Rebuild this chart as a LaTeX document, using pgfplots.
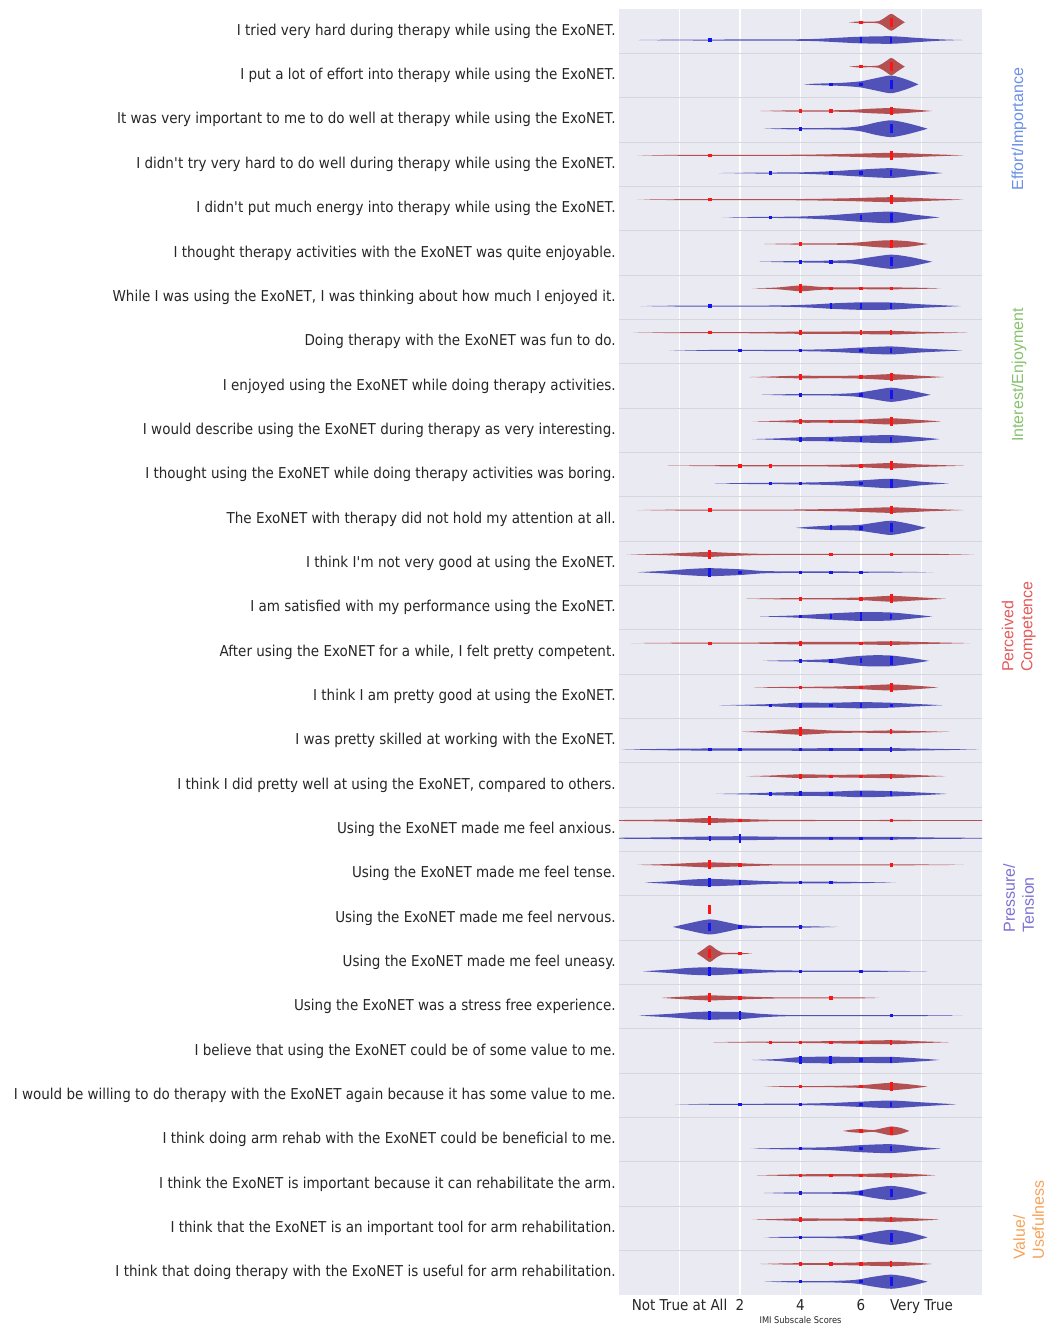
\documentclass[border=0pt]{standalone}
\usepackage{fontspec}
\setmainfont{DejaVu Sans}[FakeStretch=0.9]
\newfontfamily\grpfont{Liberation Sans}
\usepackage{pgfplots}
\pgfplotsset{compat=1.18}
\usepgfplotslibrary{fillbetween}

\definecolor{bgcol}{HTML}{EAEAF2}
\definecolor{sepcol}{HTML}{D6D6DE}
\definecolor{txt}{HTML}{262626}
\definecolor{redv}{RGB}{176,72,74}
\definecolor{bluev}{RGB}{72,74,180}
\definecolor{redpt}{RGB}{255,20,20}
\definecolor{bluept}{RGB}{20,20,240}
\definecolor{effcol}{HTML}{6A8FE6}
\definecolor{intcol}{HTML}{86C16E}
\definecolor{pcol}{HTML}{E25A5A}
\definecolor{prcol}{HTML}{7B70D2}
\definecolor{vcol}{HTML}{F4A258}

% one violin: #1 name, #2 centre row, #3 fill colour, #4 rows "x halfwidth"
\newcommand{\violin}[4]{%
  \addplot[name path=#1u, draw=none, smooth, tension=0.45, forget plot]
    table[x index=0, y expr={#2+\thisrowno{1}}, row sep=\\] {#4};
  \addplot[name path=#1l, draw=none, smooth, tension=0.45, forget plot]
    table[x index=0, y expr={#2-\thisrowno{1}}, row sep=\\] {#4};
  \addplot[fill=#3, fill opacity=0.95, draw=none, forget plot] fill between[of=#1u and #1l];
}

\tikzset{
  grp/.style={rotate=90, anchor=west, align=left,
              font=\grpfont\fontsize{8}{9.5}\selectfont},
}

\begin{document}
\begin{tikzpicture}
\begin{axis}[
  at={(0,0)}, anchor=south west,
  scale only axis, width=181.5pt, height=643pt,
  xmin=-2, xmax=10, ymin=0.5, ymax=29.5, y dir=reverse,
  clip mode=individual,
  axis background/.style={fill=bgcol},
  axis line style={draw=none},
  major tick length=0pt, minor tick length=0pt,
  xtick={0,2,4,6,8},
  xticklabels={Not True at All,2,4,6,Very True},
  ytick={1,...,29},
  minor ytick={1.5,2.5,...,28.5},
  xmajorgrids, yminorgrids,
  major grid style={white, line width=0.6pt},
  minor grid style={sepcol, line width=0.5pt},
  tick label style={font=\fontsize{7.5}{9}\selectfont, text=txt},
  xticklabel style={anchor=base, yshift=-8pt},
  yticklabel style={anchor=east, inner sep=0pt, xshift=-1.5pt},
  xlabel={IMI Subscale Scores},
  xlabel style={font=\fontsize{4.6}{5}\selectfont, text=txt,
                at={(axis description cs:0.5,0)}, anchor=center, yshift=-12.5pt},
  yticklabels={
    I tried very hard during therapy while using the ExoNET.,
    I put a lot of effort into therapy while using the ExoNET.,
    It was very important to me to do well at therapy while using the ExoNET.,
    I didn\textquotesingle t try very hard to do well during therapy while using the ExoNET.,
    I didn\textquotesingle t put much energy into therapy while using the ExoNET.,
    I thought therapy activities with the ExoNET was quite enjoyable.,
    {While I was using the ExoNET, I was thinking about how much I enjoyed it.},
    Doing therapy with the ExoNET was fun to do.,
    I enjoyed using the ExoNET while doing therapy activities.,
    I would describe using the ExoNET during therapy as very interesting.,
    I thought using the ExoNET while doing therapy activities was boring.,
    The ExoNET with therapy did not hold my attention at all.,
    I think I\textquotesingle m not very good at using the ExoNET.,
    I am satisfied with my performance using the ExoNET.,
    {After using the ExoNET for a while, I felt pretty competent.},
    I think I am pretty good at using the ExoNET.,
    I was pretty skilled at working with the ExoNET.,
    {I think I did pretty well at using the ExoNET, compared to others.},
    Using the ExoNET made me feel anxious.,
    Using the ExoNET made me feel tense.,
    Using the ExoNET made me feel nervous.,
    Using the ExoNET made me feel uneasy.,
    Using the ExoNET was a stress free experience.,
    I believe that using the ExoNET could be of some value to me.,
    I would be willing to do therapy with the ExoNET again because it has some value to me.,
    I think doing arm rehab with the ExoNET could be beneficial to me.,
    I think the ExoNET is important because it can rehabilitate the arm.,
    I think that the ExoNET is an important tool for arm rehabilitation.,
    I think that doing therapy with the ExoNET is useful for arm rehabilitation.,
  },
]

% red violins (upper of each row)
\violin{r1}{0.8}{redv}{5.6 0\\ 5.8 0.012\\ 6 0.02\\ 6.3 0.012\\ 6.6 0.03\\ 6.8 0.11\\ 7 0.19\\ 7.2 0.11\\ 7.4 0.02\\ 7.45 0\\}
\violin{r2}{1.8}{redv}{5.6 0\\ 5.8 0.012\\ 6 0.02\\ 6.3 0.012\\ 6.6 0.03\\ 6.8 0.11\\ 7 0.195\\ 7.2 0.11\\ 7.4 0.02\\ 7.45 0\\}
\violin{r3}{2.8}{redv}{2.65 0\\ 3.5 0.012\\ 4 0.014\\ 5 0.015\\ 5.7 0.025\\ 6.3 0.05\\ 7 0.065\\ 7.6 0.04\\ 8.35 0\\}
\violin{r4}{3.8}{redv}{-1.4 0\\ 0 0.01\\ 2 0.01\\ 4 0.014\\ 5.5 0.03\\ 7 0.055\\ 8.3 0.025\\ 9.4 0\\}
\violin{r5}{4.8}{redv}{-1.4 0\\ 0 0.01\\ 2 0.01\\ 4 0.014\\ 5.5 0.03\\ 7 0.055\\ 8.3 0.025\\ 9.4 0\\}
\violin{r6}{5.8}{redv}{2.8 0\\ 3.5 0.01\\ 4 0.012\\ 5 0.014\\ 5.8 0.03\\ 6.5 0.07\\ 7 0.085\\ 7.6 0.06\\ 8.2 0\\}
\violin{r7}{6.8}{redv}{2.4 0\\ 3.2 0.018\\ 4 0.065\\ 4.6 0.035\\ 5 0.025\\ 6 0.02\\ 7 0.022\\ 8 0.012\\ 8.65 0\\}
\violin{r8}{7.8}{redv}{-1.55 0\\ 0 0.01\\ 1 0.012\\ 2.5 0.013\\ 4 0.025\\ 5 0.025\\ 6 0.032\\ 7 0.04\\ 8 0.02\\ 9.55 0\\}
\violin{r9}{8.8}{redv}{2.3 0\\ 3 0.012\\ 4 0.03\\ 5 0.025\\ 6 0.035\\ 7 0.065\\ 8 0.028\\ 8.75 0\\}
\violin{r10}{9.8}{redv}{2.4 0\\ 3.2 0.012\\ 4 0.03\\ 5 0.03\\ 6 0.04\\ 7 0.07\\ 8 0.03\\ 8.65 0\\}
\violin{r11}{10.8}{redv}{-0.4 0\\ 1 0.01\\ 2 0.014\\ 3 0.016\\ 4 0.014\\ 5 0.018\\ 6 0.035\\ 7 0.06\\ 8 0.028\\ 9.4 0\\}
\violin{r12}{11.8}{redv}{-1.4 0\\ 0 0.01\\ 2 0.01\\ 4 0.014\\ 5.5 0.03\\ 7 0.062\\ 8.3 0.025\\ 9.4 0\\}
\violin{r13}{12.8}{redv}{-1.75 0\\ -0.5 0.016\\ 0.5 0.045\\ 1 0.056\\ 1.5 0.04\\ 2.5 0.016\\ 3.5 0.012\\ 5 0.012\\ 7 0.012\\ 8.5 0.01\\ 9.75 0\\}
\violin{r14}{13.8}{redv}{2.2 0\\ 3 0.01\\ 4 0.014\\ 5 0.016\\ 6 0.03\\ 7 0.065\\ 8 0.03\\ 8.8 0\\}
\violin{r15}{14.8}{redv}{-1.6 0\\ 0 0.01\\ 1 0.012\\ 2.5 0.013\\ 4 0.03\\ 5 0.028\\ 6 0.03\\ 7 0.04\\ 8.2 0.02\\ 9.6 0\\}
\violin{r16}{15.8}{redv}{2.45 0\\ 3.2 0.01\\ 4 0.014\\ 5 0.02\\ 6 0.04\\ 7 0.068\\ 8 0.03\\ 8.55 0\\}
\violin{r17}{16.8}{redv}{2.05 0\\ 3 0.025\\ 4 0.065\\ 5 0.03\\ 6 0.02\\ 7 0.03\\ 8 0.015\\ 8.95 0\\}
\violin{r18}{17.8}{redv}{2.2 0\\ 3 0.014\\ 4 0.042\\ 5 0.03\\ 6 0.035\\ 7 0.045\\ 8 0.02\\ 8.8 0\\}
\violin{r19}{18.8}{redv}{-2.1 0.01\\ -0.5 0.02\\ 0.5 0.045\\ 1 0.055\\ 2 0.035\\ 3 0.016\\ 4 0.012\\ 6 0.01\\ 7 0.012\\ 8.5 0.01\\ 10.1 0.008\\}
\violin{r20}{19.8}{redv}{-1.4 0\\ -0.3 0.02\\ 0.5 0.045\\ 1 0.056\\ 2 0.035\\ 3 0.014\\ 4 0.01\\ 6 0.01\\ 7 0.01\\ 8.2 0.008\\ 9.4 0\\}
\violin{r22}{21.8}{redv}{0.58 0\\ 0.8 0.1\\ 1 0.19\\ 1.2 0.1\\ 1.4 0.025\\ 1.7 0.014\\ 2 0.016\\ 2.4 0\\}
\violin{r23}{22.8}{redv}{-0.6 0\\ 0 0.025\\ 1 0.056\\ 2 0.035\\ 3 0.015\\ 4 0.012\\ 5 0.012\\ 6 0.01\\ 6.6 0\\}
\violin{r24}{23.8}{redv}{1.1 0\\ 2 0.01\\ 3 0.012\\ 4 0.016\\ 5 0.025\\ 6 0.035\\ 7 0.045\\ 8 0.02\\ 8.9 0\\}
\violin{r25}{24.8}{redv}{2.8 0\\ 3.5 0.01\\ 4 0.012\\ 5 0.014\\ 6 0.03\\ 6.5 0.06\\ 7 0.083\\ 7.6 0.05\\ 8.2 0\\}
\violin{r26}{25.8}{redv}{5.4 0\\ 5.7 0.03\\ 6 0.04\\ 6.4 0.02\\ 6.7 0.06\\ 7 0.1\\ 7.3 0.07\\ 7.6 0\\}
\violin{r27}{26.8}{redv}{2.55 0\\ 3.3 0.012\\ 4 0.022\\ 5 0.025\\ 6 0.03\\ 7 0.048\\ 7.8 0.025\\ 8.45 0\\}
\violin{r28}{27.8}{redv}{2.4 0\\ 3.2 0.014\\ 4 0.03\\ 5 0.022\\ 6 0.032\\ 7 0.05\\ 7.9 0.025\\ 8.6 0\\}
\violin{r29}{28.8}{redv}{2.65 0\\ 3.4 0.012\\ 4 0.018\\ 5 0.022\\ 6 0.035\\ 7 0.05\\ 7.8 0.028\\ 8.35 0\\}

% blue violins (lower of each row)
\violin{b1}{1.2}{bluev}{-1.35 0\\ 0 0.01\\ 2 0.012\\ 3.5 0.014\\ 4.5 0.025\\ 5.5 0.06\\ 6 0.075\\ 7 0.085\\ 7.8 0.05\\ 8.6 0.016\\ 9.35 0\\}
\violin{b2}{2.2}{bluev}{4.1 0\\ 4.5 0.016\\ 5 0.025\\ 5.5 0.04\\ 6 0.07\\ 6.5 0.14\\ 7 0.2\\ 7.5 0.11\\ 7.9 0\\}
\violin{b3}{3.2}{bluev}{2.8 0\\ 3.5 0.012\\ 4.5 0.014\\ 5.5 0.025\\ 6 0.06\\ 6.5 0.14\\ 7 0.19\\ 7.5 0.13\\ 8 0.04\\ 8.2 0\\}
\violin{b4}{4.2}{bluev}{1.3 0\\ 2.5 0.01\\ 3 0.012\\ 4 0.016\\ 5 0.04\\ 6 0.08\\ 7 0.11\\ 7.8 0.06\\ 8.7 0\\}
\violin{b5}{5.2}{bluev}{1.4 0\\ 2.5 0.01\\ 3 0.012\\ 4 0.02\\ 5 0.05\\ 6 0.1\\ 7 0.13\\ 7.8 0.06\\ 8.6 0\\}
\violin{b6}{6.2}{bluev}{2.65 0\\ 3.5 0.012\\ 4 0.016\\ 5 0.025\\ 5.7 0.04\\ 6.3 0.1\\ 7 0.16\\ 7.6 0.11\\ 8.35 0\\}
\violin{b7}{7.2}{bluev}{-1.3 0\\ 0 0.01\\ 2 0.012\\ 3.5 0.016\\ 4.5 0.04\\ 5 0.06\\ 6 0.085\\ 7 0.08\\ 8 0.04\\ 9.3 0\\}
\violin{b8}{8.2}{bluev}{-0.35 0\\ 1 0.01\\ 2 0.012\\ 3 0.013\\ 4 0.016\\ 5 0.03\\ 6 0.065\\ 7 0.09\\ 8 0.045\\ 9.35 0\\}
\violin{b9}{9.2}{bluev}{2.7 0\\ 3.5 0.012\\ 4 0.014\\ 5 0.016\\ 5.8 0.04\\ 6.4 0.1\\ 7 0.16\\ 7.6 0.1\\ 8.3 0\\}
\violin{b10}{10.2}{bluev}{2.4 0\\ 3.2 0.016\\ 4 0.04\\ 5 0.05\\ 6 0.075\\ 7 0.09\\ 8 0.04\\ 8.6 0\\}
\violin{b11}{11.2}{bluev}{1.15 0\\ 2 0.01\\ 3 0.016\\ 4 0.02\\ 5 0.035\\ 6 0.07\\ 7 0.105\\ 8 0.04\\ 8.9 0\\}
\violin{b12}{12.2}{bluev}{3.85 0\\ 4.3 0.025\\ 5 0.05\\ 5.6 0.055\\ 6 0.07\\ 6.5 0.12\\ 7 0.16\\ 7.6 0.09\\ 8.15 0\\}
\violin{b13}{13.2}{bluev}{-1.4 0\\ -0.5 0.03\\ 0.3 0.07\\ 1 0.09\\ 2 0.065\\ 2.8 0.025\\ 4 0.016\\ 5 0.016\\ 6 0.014\\ 7 0.01\\ 8.4 0\\}
\violin{b14}{14.2}{bluev}{2.65 0\\ 3.5 0.016\\ 4 0.03\\ 5 0.07\\ 6 0.1\\ 7 0.09\\ 7.8 0.04\\ 8.35 0\\}
\violin{b15}{15.2}{bluev}{2.75 0\\ 3.5 0.012\\ 4 0.016\\ 5 0.04\\ 5.6 0.09\\ 6.3 0.125\\ 7 0.12\\ 7.7 0.06\\ 8.25 0\\}
\violin{b16}{16.2}{bluev}{1.3 0\\ 2.3 0.012\\ 3 0.025\\ 4 0.055\\ 5 0.055\\ 6 0.07\\ 7 0.055\\ 7.9 0.025\\ 8.7 0\\}
\violin{b17}{17.2}{bluev}{-1.9 0\\ -0.5 0.015\\ 1 0.025\\ 2 0.025\\ 3 0.025\\ 4 0.028\\ 5 0.03\\ 6 0.03\\ 7 0.032\\ 8.5 0.015\\ 9.9 0\\}
\violin{b18}{18.2}{bluev}{1.2 0\\ 2.2 0.012\\ 3 0.028\\ 4 0.045\\ 5 0.05\\ 6 0.075\\ 7 0.06\\ 8 0.03\\ 8.85 0\\}
\violin{b19}{19.2}{bluev}{-2.1 0.01\\ -0.5 0.02\\ 1 0.04\\ 2 0.045\\ 3 0.035\\ 4 0.03\\ 5 0.03\\ 6 0.03\\ 7 0.03\\ 8.5 0.016\\ 10.1 0.008\\}
\violin{b20}{20.2}{bluev}{-1.15 0\\ -0.3 0.03\\ 0.3 0.065\\ 1 0.083\\ 2 0.06\\ 3 0.03\\ 4 0.02\\ 5 0.02\\ 6 0.012\\ 7.15 0\\}
\violin{b21}{21.2}{bluev}{-0.22 0\\ 0.3 0.08\\ 1 0.17\\ 1.6 0.1\\ 2 0.045\\ 2.6 0.02\\ 3.5 0.016\\ 4 0.016\\ 4.6 0.01\\ 5.22 0\\}
\violin{b22}{22.2}{bluev}{-1.2 0\\ -0.3 0.04\\ 0.3 0.075\\ 1 0.09\\ 2 0.06\\ 3 0.025\\ 4 0.016\\ 5 0.014\\ 6 0.014\\ 7 0.01\\ 8.2 0\\}
\violin{b23}{23.2}{bluev}{-1.35 0\\ -0.3 0.04\\ 0.5 0.08\\ 1 0.09\\ 1.5 0.085\\ 2 0.08\\ 2.7 0.04\\ 3.5 0.014\\ 5 0.01\\ 7 0.011\\ 8.3 0.008\\ 9.35 0\\}
\violin{b24}{24.2}{bluev}{2.4 0\\ 3.2 0.02\\ 4 0.065\\ 5 0.075\\ 6 0.065\\ 7 0.07\\ 8 0.03\\ 8.6 0\\}
\violin{b25}{25.2}{bluev}{-0.15 0\\ 1 0.01\\ 2 0.012\\ 3 0.013\\ 4 0.016\\ 5 0.03\\ 6 0.06\\ 7 0.085\\ 8 0.045\\ 9.15 0\\}
\violin{b26}{26.2}{bluev}{2.35 0\\ 3.2 0.012\\ 4 0.02\\ 5 0.035\\ 6 0.08\\ 7 0.1\\ 7.9 0.04\\ 8.65 0\\}
\violin{b27}{27.2}{bluev}{2.8 0\\ 3.5 0.012\\ 4 0.014\\ 5 0.016\\ 5.8 0.04\\ 6.4 0.11\\ 7 0.16\\ 7.6 0.1\\ 8.2 0\\}
\violin{b28}{28.2}{bluev}{2.8 0\\ 3.5 0.012\\ 4 0.014\\ 5 0.016\\ 5.8 0.04\\ 6.4 0.115\\ 7 0.17\\ 7.6 0.11\\ 8.2 0\\}
\violin{b29}{29.2}{bluev}{2.8 0\\ 3.5 0.012\\ 4 0.014\\ 5 0.016\\ 5.8 0.04\\ 6.4 0.11\\ 7 0.16\\ 7.6 0.1\\ 8.2 0\\}

% individual answers: small, medium and large stacks
\addplot[only marks, mark=square*, mark size=0.6pt, color=redpt] coordinates {
  (6,0.8) (6,1.8) (4,2.8) (5,2.8) (1,3.8) (1,4.8) (4,5.8) (5,6.8) (6,6.8) (7,6.8)
  (1,7.8) (6,8.8) (5,9.8) (6,9.8) (2,10.8) (3,10.8) (6,10.8) (1,11.8) (5,12.8) (7,12.8)
  (4,13.8) (6,13.8) (1,14.8) (6,14.8) (4,15.8) (6,15.8) (5,17.8) (6,17.8) (2,18.8) (7,18.8)
  (2,19.8) (7,19.8) (2,21.8) (2,22.8) (5,22.8) (3,23.8) (4,23.8) (5,23.8) (6,23.8)
  (4,24.8) (6,24.8) (6,25.8) (4,26.8) (5,26.8) (6,26.8) (6,27.8) (4,28.8) (5,28.8) (6,28.8)};
\addplot[only marks, mark=|, mark size=1.3pt, color=redpt, mark options={line width=1.2pt}] coordinates {
  (4,7.8) (6,7.8) (7,7.8) (4,8.8) (4,9.8) (4,14.8) (7,14.8) (7,16.8) (4,17.8) (7,17.8)
  (7,23.8) (7,26.8) (4,27.8) (7,27.8) (7,28.8)};
\addplot[only marks, mark=|, mark size=2.2pt, color=redpt, mark options={line width=1.4pt}] coordinates {
  (7,0.8) (7,1.8) (7,2.8) (7,3.8) (7,4.8) (7,5.8) (4,6.8) (7,8.8) (7,9.8) (7,10.8)
  (7,11.8) (1,12.8) (7,13.8) (7,15.8) (4,16.8) (1,18.8) (1,19.8) (1,20.8) (1,21.8) (1,22.8)
  (7,24.8) (7,25.8)};

\addplot[only marks, mark=square*, mark size=0.6pt, color=bluept] coordinates {
  (1,1.2) (5,2.2) (6,2.2) (4,3.2) (3,4.2) (5,4.2) (6,4.2) (3,5.2) (4,6.2) (5,6.2)
  (1,7.2) (2,8.2) (4,8.2) (6,8.2) (4,9.2) (6,9.2) (5,10.2) (3,11.2) (4,11.2) (6,11.2)
  (6,12.2) (2,13.2) (4,13.2) (5,13.2) (6,13.2) (4,14.2) (4,15.2) (5,15.2) (3,16.2) (5,16.2)
  (7,16.2) (1,17.2) (2,17.2) (4,17.2) (5,17.2) (6,17.2) (3,18.2) (5,18.2) (5,19.2) (6,19.2)
  (7,19.2) (4,20.2) (5,20.2) (2,21.2) (4,21.2) (2,22.2) (4,22.2) (6,22.2) (7,23.2) (6,24.2)
  (2,25.2) (4,25.2) (6,25.2) (4,26.2) (6,26.2) (4,27.2) (6,27.2) (4,28.2) (6,28.2) (4,29.2) (6,29.2)};
\addplot[only marks, mark=|, mark size=1.3pt, color=bluept, mark options={line width=1.2pt}] coordinates {
  (6,1.2) (7,1.2) (7,4.2) (6,5.2) (5,7.2) (6,7.2) (7,7.2) (7,8.2) (4,10.2) (6,10.2)
  (7,10.2) (5,12.2) (5,14.2) (7,14.2) (6,15.2) (4,16.2) (6,16.2) (7,17.2) (4,18.2) (6,18.2)
  (7,18.2) (1,19.2) (2,20.2) (7,24.2) (7,25.2) (7,26.2)};
\addplot[only marks, mark=|, mark size=2.2pt, color=bluept, mark options={line width=1.4pt}] coordinates {
  (7,2.2) (7,3.2) (7,5.2) (7,6.2) (7,9.2) (7,11.2) (7,12.2) (1,13.2) (6,14.2) (7,15.2)
  (2,19.2) (1,20.2) (1,21.2) (1,22.2) (1,23.2) (2,23.2) (4,24.2) (5,24.2) (7,27.2) (7,28.2) (7,29.2)};

% subscale names on the right
\node[grp, text=effcol] at (axis cs:11.22,4.75) {Effort/Importance};
\node[grp, text=intcol] at (axis cs:11.22,10.42) {Interest/Enjoyment};
\node[grp, text=pcol] at (axis cs:11.21,15.61) {Perceived\\Competence};
\node[grp, text=prcol] at (axis cs:11.21,21.48) {Pressure/\\Tension};
\node[grp, text=vcol] at (axis cs:11.54,28.86) {Value/\\Usefulness};
\end{axis}
% page = 1046 x 1325 px at 0.5pt per px; the axis box is (0,0)-(181.5pt,643pt)
\pgfresetboundingbox
\path[use as bounding box] (-309.5pt,-15pt) rectangle (213.5pt,647.5pt);
\end{tikzpicture}
\end{document}
